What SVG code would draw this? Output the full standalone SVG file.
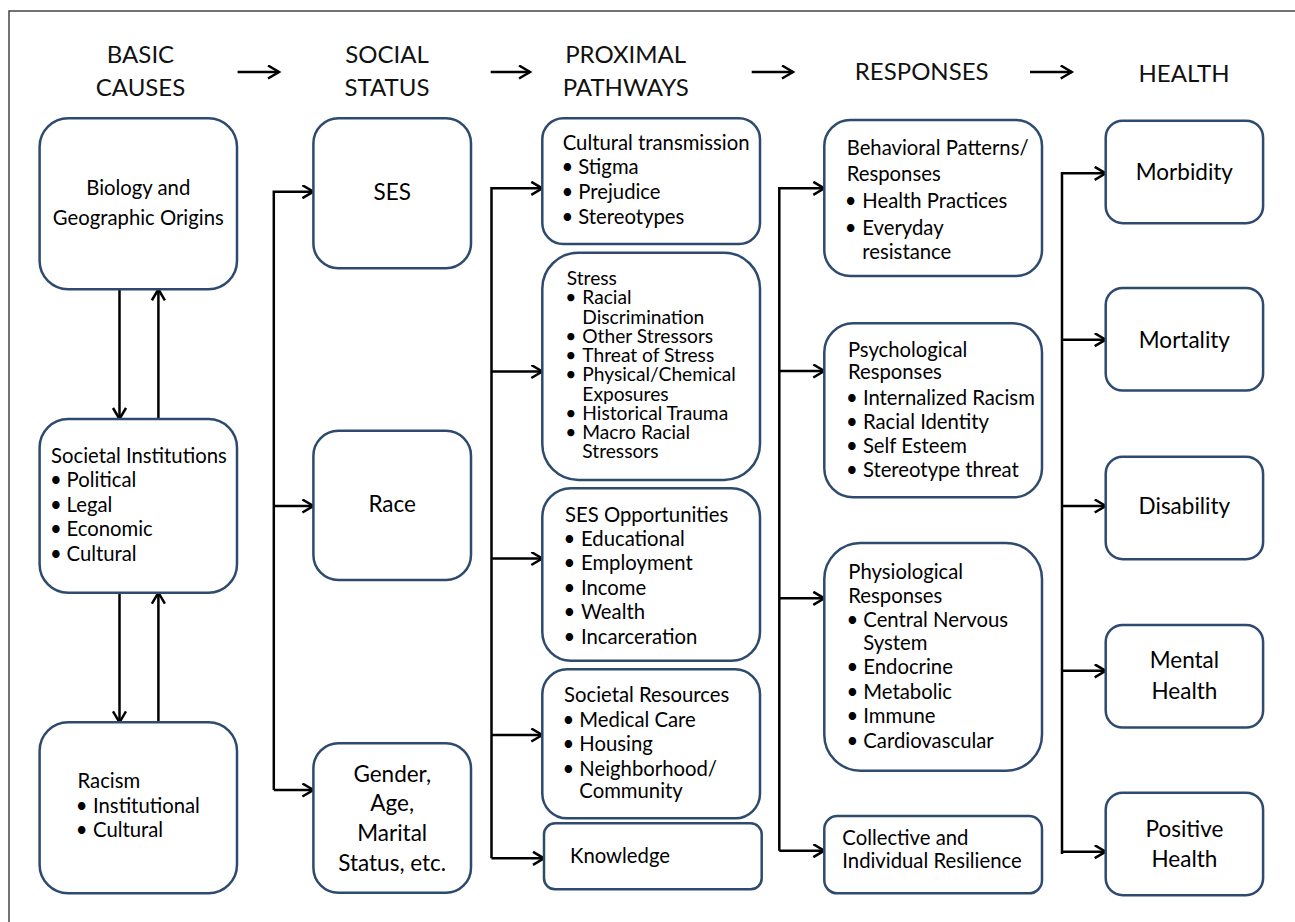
<svg xmlns="http://www.w3.org/2000/svg" width="1295" height="922" viewBox="0 0 1295 922">
<style>
.box{fill:#fff;stroke:#2E4A6E;stroke-width:2.5}
.t{font-family:Lato,"Liberation Sans",sans-serif;font-size:20.3px;fill:#000}
.big{font-size:22.5px}
.sm{font-size:19.2px}
.c{text-anchor:middle}
.h{font-size:24px;fill:#111}
.b{text-anchor:middle}
.conn{stroke:#000;stroke-width:2.5;fill:none}
.frame{stroke:#444;stroke-width:1.5;fill:none}
</style>
<defs>
<marker id="ah" markerWidth="16" markerHeight="16" refX="12" refY="7" orient="auto" markerUnits="userSpaceOnUse">
<path d="M1,0.5 L12,7 L1,13.5" fill="none" stroke="#000" stroke-width="2.5"/>
</marker>
</defs>
<rect width="1295" height="922" fill="#fff"/>
<path class="frame" d="M9,922 L9,11 L1295,11"/>

<g id="headers" class="t h">
<text class="c" x="140.5" y="62.7">BASIC</text>
<text class="c" x="140.5" y="96">CAUSES</text>
<text class="c" x="387" y="62.7">SOCIAL</text>
<text class="c" x="387" y="96">STATUS</text>
<text class="c" x="625.7" y="62.7">PROXIMAL</text>
<text class="c" x="625.7" y="96">PATHWAYS</text>
<text class="c" x="921.7" y="80">RESPONSES</text>
<text class="c" x="1184" y="81.7">HEALTH</text>
</g>

<g id="connectors" class="conn">
<path d="M237.6,72 H279" marker-end="url(#ah)"/>
<path d="M490.7,72 H530" marker-end="url(#ah)"/>
<path d="M751.7,72 H793" marker-end="url(#ah)"/>
<path d="M1030,72 H1071.7" marker-end="url(#ah)"/>
<path d="M119.5,289.3 V419" marker-end="url(#ah)"/>
<path d="M158.4,419 V289.3" marker-end="url(#ah)"/>
<path d="M119.5,592.7 V722.3" marker-end="url(#ah)"/>
<path d="M158.4,722.3 V592.7" marker-end="url(#ah)"/>
<path d="M273.8,790 V191.7 H313.4" marker-end="url(#ah)"/>
<path d="M273.8,506 H313.4" marker-end="url(#ah)"/>
<path d="M273.8,790 H313.4" marker-end="url(#ah)"/>
<path d="M491.5,858.3 V188.3 H542.3" marker-end="url(#ah)"/>
<path d="M491.5,371.5 H542.3" marker-end="url(#ah)"/>
<path d="M491.5,558.5 H542.3" marker-end="url(#ah)"/>
<path d="M491.5,735 H542.3" marker-end="url(#ah)"/>
<path d="M491.5,858.3 H544" marker-end="url(#ah)"/>
<path d="M779.3,850.7 V188.3 H824.3" marker-end="url(#ah)"/>
<path d="M779.3,371 H824.3" marker-end="url(#ah)"/>
<path d="M779.3,598.3 H824.3" marker-end="url(#ah)"/>
<path d="M779.3,850.7 H824.3" marker-end="url(#ah)"/>
<path d="M1062,854 V173.3 H1105.7" marker-end="url(#ah)"/>
<path d="M1062,339.7 H1105.7" marker-end="url(#ah)"/>
<path d="M1062,506 H1105.7" marker-end="url(#ah)"/>
<path d="M1062,670.8 H1105.7" marker-end="url(#ah)"/>
<path d="M1062,851.7 H1105.7" marker-end="url(#ah)"/>
</g>

<g id="biology" class="t">
<rect class="box" x="39.6" y="118.3" width="197.4" height="171" rx="28.5"/>
<text class="c" x="138.3" y="195">Biology and</text>
<text class="c" x="138.3" y="225">Geographic Origins</text>
</g>

<g id="societal-institutions" class="t">
<rect class="box" x="39.6" y="419" width="197.4" height="173.7" rx="28.5"/>
<text x="51" y="462.7">Societal Institutions</text>
<text class="b" x="55.8" y="486.7">•</text><text x="66.5" y="486.7">Political</text>
<text class="b" x="55.8" y="511.7">•</text><text x="66.5" y="511.7">Legal</text>
<text class="b" x="55.8" y="536">•</text><text x="66.5" y="536">Economic</text>
<text class="b" x="55.8" y="560.7">•</text><text x="66.5" y="560.7">Cultural</text>
</g>

<g id="racism" class="t">
<rect class="box" x="39.6" y="722.3" width="197.4" height="171" rx="28.5"/>
<text x="77.5" y="788.3">Racism</text>
<text class="b" x="81.6" y="812.7">•</text><text x="93" y="812.7">Institutional</text>
<text class="b" x="81.6" y="837.3">•</text><text x="93" y="837.3">Cultural</text>
</g>

<g id="ses" class="t big">
<rect class="box" x="313.4" y="118.3" width="157.6" height="150" rx="25"/>
<text class="c" x="392.2" y="200">SES</text>
</g>

<g id="race" class="t big">
<rect class="box" x="313.4" y="430.7" width="157.6" height="149.3" rx="25"/>
<text class="c" x="392.2" y="511.7">Race</text>
</g>

<g id="gender" class="t big">
<rect class="box" x="313.4" y="743.3" width="157.6" height="149.4" rx="25"/>
<text class="c" x="392.2" y="781.7">Gender,</text>
<text class="c" x="392.2" y="810.7">Age,</text>
<text class="c" x="392.2" y="840.7">Marital</text>
<text class="c" x="392.2" y="870.7">Status, etc.</text>
</g>

<g id="cultural-transmission" class="t">
<rect class="box" x="542.3" y="118.3" width="217.7" height="125.7" rx="21"/>
<text x="562.7" y="150">Cultural transmission</text>
<text class="b" x="567.3" y="174.3">•</text><text x="578.3" y="174.3">Stigma</text>
<text class="b" x="567.3" y="199">•</text><text x="578.3" y="199">Prejudice</text>
<text class="b" x="567.3" y="224">•</text><text x="578.3" y="224">Stereotypes</text>
</g>

<g id="stress" class="t sm">
<rect class="box" x="542.3" y="252.7" width="217.7" height="227.3" rx="36"/>
<text x="566.7" y="285">Stress</text>
<text class="b" x="570.7" y="304.3">•</text><text x="582.3" y="304.3">Racial</text>
<text x="582.3" y="323.5">Discrimination</text>
<text class="b" x="570.7" y="342.8">•</text><text x="582.3" y="342.8">Other Stressors</text>
<text class="b" x="570.7" y="362">•</text><text x="582.3" y="362">Threat of Stress</text>
<text class="b" x="570.7" y="381.3">•</text><text x="582.3" y="381.3">Physical/Chemical</text>
<text x="582.3" y="400.5">Exposures</text>
<text class="b" x="570.7" y="419.8">•</text><text x="582.3" y="419.8">Historical Trauma</text>
<text class="b" x="570.7" y="439">•</text><text x="582.3" y="439">Macro Racial</text>
<text x="582.3" y="458.3">Stressors</text>
</g>

<g id="ses-opportunities" class="t">
<rect class="box" x="542.3" y="488.3" width="217.7" height="172.4" rx="28.7"/>
<text x="565" y="521.7">SES Opportunities</text>
<text class="b" x="569.3" y="546">•</text><text x="581" y="546">Educational</text>
<text class="b" x="569.3" y="570">•</text><text x="581" y="570">Employment</text>
<text class="b" x="569.3" y="595">•</text><text x="581" y="595">Income</text>
<text class="b" x="569.3" y="619.3">•</text><text x="581" y="619.3">Wealth</text>
<text class="b" x="569.3" y="644">•</text><text x="581" y="644">Incarceration</text>
</g>

<g id="societal-resources" class="t">
<rect class="box" x="542.3" y="669.3" width="217.7" height="149" rx="24.8"/>
<text x="564" y="701.7">Societal Resources</text>
<text class="b" x="568.3" y="727.3">•</text><text x="579.3" y="727.3">Medical Care</text>
<text class="b" x="568.3" y="751">•</text><text x="579.3" y="751">Housing</text>
<text class="b" x="568.3" y="776">•</text><text x="579.3" y="776">Neighborhood/</text>
<text x="579.3" y="798.3">Community</text>
</g>

<g id="knowledge" class="t">
<rect class="box" x="544" y="823.3" width="217.7" height="66" rx="11"/>
<text x="570" y="863.3">Knowledge</text>
</g>

<g id="behavioral" class="t">
<rect class="box" x="824.3" y="120" width="217.7" height="156" rx="26"/>
<text x="846.7" y="155">Behavioral Patterns/</text>
<text x="846.7" y="181">Responses</text>
<text class="b" x="850.7" y="208.3">•</text><text x="862.3" y="208.3">Health Practices</text>
<text class="b" x="850.7" y="235">•</text><text x="862.3" y="235">Everyday</text>
<text x="862.3" y="259.3">resistance</text>
</g>

<g id="psychological" class="t">
<rect class="box" x="824.3" y="323.3" width="217.7" height="174" rx="29"/>
<text x="847.9" y="356.7">Psychological</text>
<text x="847.9" y="379.3">Responses</text>
<text class="b" x="852" y="405">•</text><text x="862.9" y="405">Internalized Racism</text>
<text class="b" x="852" y="429.3">•</text><text x="862.9" y="429.3">Racial Identity</text>
<text class="b" x="852" y="453.3">•</text><text x="862.9" y="453.3">Self Esteem</text>
<text class="b" x="852" y="477.3">•</text><text x="862.9" y="477.3">Stereotype threat</text>
</g>

<g id="physiological" class="t">
<rect class="box" x="824.3" y="543" width="217.7" height="227.7" rx="36"/>
<text x="848.3" y="579.3">Physiological</text>
<text x="848.3" y="602.7">Responses</text>
<text class="b" x="852.3" y="626.7">•</text><text x="863.3" y="626.7">Central Nervous</text>
<text x="863.3" y="650">System</text>
<text class="b" x="852.3" y="674">•</text><text x="863.3" y="674">Endocrine</text>
<text class="b" x="852.3" y="698.7">•</text><text x="863.3" y="698.7">Metabolic</text>
<text class="b" x="852.3" y="723.3">•</text><text x="863.3" y="723.3">Immune</text>
<text class="b" x="852.3" y="747.7">•</text><text x="863.3" y="747.7">Cardiovascular</text>
</g>

<g id="resilience" class="t">
<rect class="box" x="824.3" y="816" width="217.7" height="77.3" rx="13"/>
<text x="842.3" y="845">Collective and</text>
<text x="842.3" y="868.3">Individual Resilience</text>
</g>

<g id="morbidity" class="t big">
<rect class="box" x="1105.7" y="120.7" width="157.4" height="102.5" rx="17"/>
<text class="c" x="1184.4" y="180">Morbidity</text>
</g>
<g id="mortality" class="t big">
<rect class="box" x="1105.7" y="288" width="157.4" height="102.5" rx="17"/>
<text class="c" x="1184.4" y="347.6">Mortality</text>
</g>
<g id="disability" class="t big">
<rect class="box" x="1105.7" y="456.7" width="157.4" height="102.5" rx="17"/>
<text class="c" x="1184.4" y="514">Disability</text>
</g>
<g id="mental-health" class="t big">
<rect class="box" x="1105.7" y="625" width="157.4" height="102.5" rx="17"/>
<text class="c" x="1184.4" y="668.3">Mental</text>
<text class="c" x="1184.4" y="699">Health</text>
</g>
<g id="positive-health" class="t big">
<rect class="box" x="1105.7" y="792.7" width="157.4" height="102.5" rx="17"/>
<text class="c" x="1184.4" y="836.7">Positive</text>
<text class="c" x="1184.4" y="866.7">Health</text>
</g>
</svg>
